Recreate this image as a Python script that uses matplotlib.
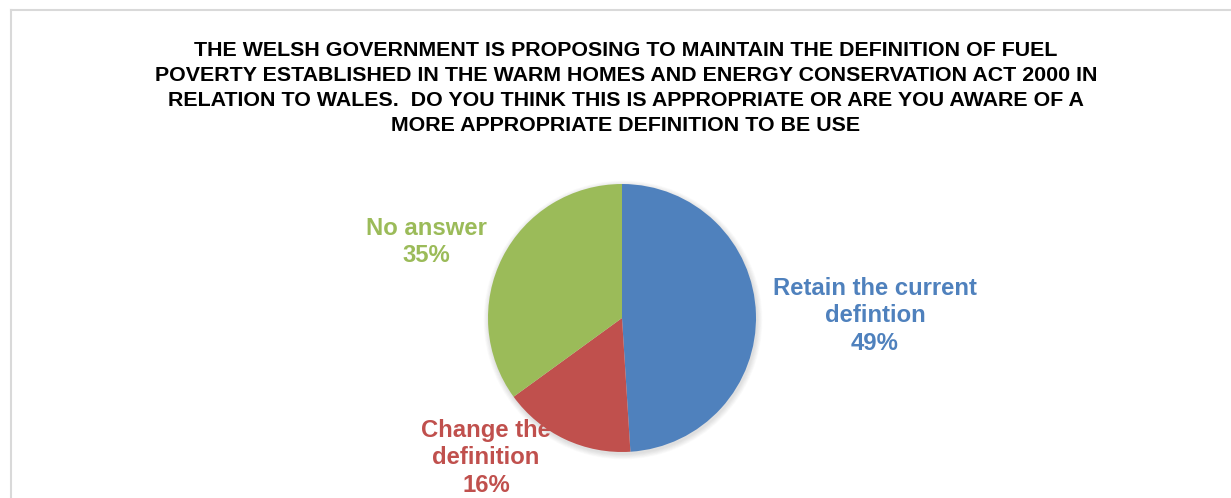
import matplotlib.pyplot as plt
from matplotlib.patches import Circle
from matplotlib.lines import Line2D

plt.rcParams['font.family'] = ['Liberation Sans', 'DejaVu Sans']

title = ('THE WELSH GOVERNMENT IS PROPOSING TO MAINTAIN THE DEFINITION OF FUEL\n'
         'POVERTY ESTABLISHED IN THE WARM HOMES AND ENERGY CONSERVATION ACT 2000 IN\n'
         'RELATION TO WALES.  DO YOU THINK THIS IS APPROPRIATE OR ARE YOU AWARE OF A\n'
         'MORE APPROPRIATE DEFINITION TO BE USE')
labels = ['Retain the current\ndefintion', 'Change the\ndefinition', 'No answer']
shares = [49, 16, 35]
colors = ['#4F81BD', '#C0504D', '#9BBB59']

# label centres in pixels (x from left, y from top)
label_pos = [(875, 316), (486, 458), (426, 242)]

W, H = 1231, 498
fig = plt.figure(figsize=(W / 100, H / 100), dpi=100, facecolor='white')
ax = fig.add_axes([0, 0, 1, 1])
ax.set_xlim(0, W)
ax.set_ylim(0, H)
ax.set_aspect('equal')
ax.axis('off')

cx, cy, r = 622, H - 318, 134

# soft shadow under the pie
for i in range(8):
    ax.add_patch(Circle((cx + 1, cy - 2), r + 0.5 + i * 0.7, color='black',
                        alpha=0.014, lw=0, zorder=0))

ax.pie(shares, colors=colors, startangle=90, counterclock=False,
       center=(cx, cy), radius=r, frame=True,
       wedgeprops=dict(linewidth=0))
ax.set_xlim(0, W)
ax.set_ylim(0, H)
ax.axis('off')

for lab, val, col, (x, y) in zip(labels, shares, colors, label_pos):
    ax.text(x, H - y, f'{lab}\n{val}%', color=col, fontsize=17.2,
            fontweight='bold', ha='center', va='center', linespacing=1.27,
            zorder=5)

fig.text(626 / W, 1 - 88 / H, title, ha='center', va='center',
         fontsize=15.4, fontweight='bold', linespacing=1.41)

# chart frame (left and top edges)
fig.add_artist(Line2D([10.5 / W, 10.5 / W], [0, 1 - 10.5 / H],
                      color='#d9d9d9', lw=1.5))
fig.add_artist(Line2D([10.5 / W, 1], [1 - 10.5 / H, 1 - 10.5 / H],
                      color='#d9d9d9', lw=1.5))

fig.savefig('out.png', dpi=100, facecolor='white')
